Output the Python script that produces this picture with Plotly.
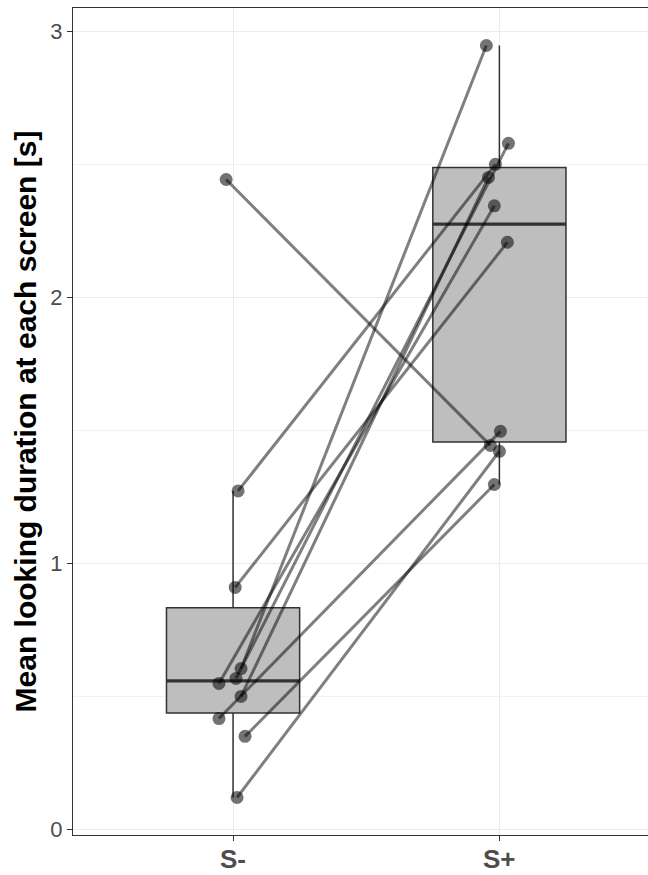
import numpy as np
import plotly.graph_objects as go

# Data: each subject's mean looking duration at S- and S+ screens
categories = ["S-", "S+"]
s_minus = [2.444, 1.273, 0.910, 0.605, 0.568, 0.549, 0.500, 0.417, 0.350, 0.120]
s_plus = [1.444, 2.501, 2.208, 2.948, 2.580, 2.345, 2.452, 1.497, 1.297, 1.422]
# horizontal jitter (in category units)
jitter_minus = [-0.026, 0.019, 0.008, 0.030, 0.011, -0.053, 0.030, -0.053, 0.045, 0.015]
jitter_plus = [-0.034, -0.015, 0.030, -0.049, 0.034, -0.019, -0.041, 0.004, -0.019, 0.000]
y_ticks = [0, 1, 2, 3]

cat_pos = [0, 1]
groups = [s_minus, s_plus]


def box_stats(vals):
    v = np.sort(np.asarray(vals, dtype=float))
    q1, med, q3 = np.percentile(v, [25, 50, 75])
    iqr = q3 - q1
    lo = v[v >= q1 - 1.5 * iqr].min()
    hi = v[v <= q3 + 1.5 * iqr].max()
    return q1, med, q3, lo, hi


stats = [box_stats(g) for g in groups]
BOX_W = 0.5
FONT = "Liberation Sans, Arial, sans-serif"

fig = go.Figure()

fig.add_trace(go.Box(
    x=cat_pos,
    q1=[s[0] for s in stats],
    median=[s[1] for s in stats],
    q3=[s[2] for s in stats],
    lowerfence=[s[3] for s in stats],
    upperfence=[s[4] for s in stats],
    width=BOX_W,
    whiskerwidth=0,
    fillcolor="#BEBEBE",
    line=dict(color="#333333", width=1.5),
    boxpoints=False,
    hoverinfo="skip",
    showlegend=False,
))

# thicker median lines
for p, s in zip(cat_pos, stats):
    fig.add_trace(go.Scatter(
        x=[p - BOX_W / 2, p + BOX_W / 2], y=[s[1], s[1]],
        mode="lines", line=dict(color="#333333", width=3.2),
        hoverinfo="skip", showlegend=False,
    ))

# paired lines
for ym, yp, jm, jp in zip(s_minus, s_plus, jitter_minus, jitter_plus):
    fig.add_trace(go.Scatter(
        x=[cat_pos[0] + jm, cat_pos[1] + jp], y=[ym, yp],
        mode="lines", line=dict(color="rgba(0,0,0,0.5)", width=3),
        hoverinfo="skip", showlegend=False,
    ))

# points
xs = [cat_pos[0] + j for j in jitter_minus] + [cat_pos[1] + j for j in jitter_plus]
ys = s_minus + s_plus
fig.add_trace(go.Scatter(
    x=xs, y=ys, mode="markers",
    marker=dict(color="rgba(0,0,0,0.55)", size=13, line=dict(width=0)),
    hoverinfo="skip", showlegend=False,
))

fig.update_layout(
    width=648, height=875,
    margin=dict(l=73, r=0, t=8, b=40),
    paper_bgcolor="white", plot_bgcolor="white",
    font=dict(family=FONT),
    showlegend=False,
)

# category labels under the ticks
for p, lab in zip(cat_pos, categories):
    fig.add_annotation(
        x=p, xref="x", y=0, yref="paper", yanchor="middle", yshift=-24,
        text=lab, showarrow=False, borderpad=0,
        font=dict(size=26, color="#4D4D4D", family=FONT, weight="bold"),
    )

fig.update_xaxes(
    range=[-0.601, 1.558],
    tickvals=cat_pos, showticklabels=False,
    ticks="outside", ticklen=5, tickcolor="#333333", tickwidth=1,
    showgrid=True, gridcolor="#EBEBEB", gridwidth=1.2,
    showline=True, linecolor="#333333", linewidth=1, mirror=True,
    zeroline=False, automargin=False,
)
fig.update_yaxes(
    range=[-0.021, 3.089],
    tickvals=y_ticks,
    tickfont=dict(size=22, color="#4D4D4D", family=FONT),
    ticks="outside", ticklen=5, tickcolor="#333333", tickwidth=1,
    showgrid=True, gridcolor="#EBEBEB", gridwidth=1.2,
    minor=dict(dtick=0.5, showgrid=True, gridcolor="#F2F2F2", gridwidth=0.8),
    showline=True, linecolor="#333333", linewidth=1, mirror=False,
    zeroline=False, automargin=False,
    title=dict(text="Mean looking duration at each screen [s]",
               font=dict(size=30, color="black", weight="bold", family=FONT), standoff=4),
)

fig.write_html("out.html", config={"displayModeBar": False},
               post_script="document.body.style.margin='0';")
